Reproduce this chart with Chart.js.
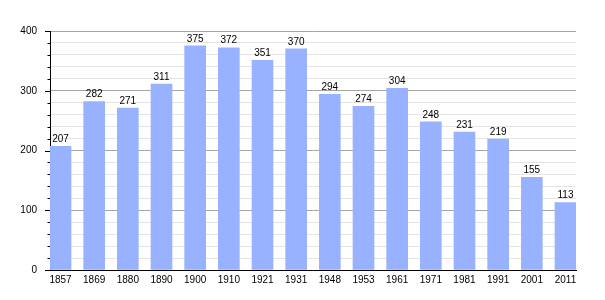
<!DOCTYPE html>
<html>
<head>
<meta charset="utf-8">
<script src="https://cdn.jsdelivr.net/npm/chart.js@4"></script>
<style>
  html, body { margin: 0; padding: 0; background: #fff; }
  #wrap { width: 605px; height: 300px; }
</style>
</head>
<body>
<div id="wrap"><canvas id="c" width="605" height="300"></canvas></div>
<script>
// Population by census year.
const years = ["1857", "1869", "1880", "1890", "1900", "1910", "1921", "1931",
               "1948", "1953", "1961", "1971", "1981", "1991", "2001", "2011"];
const population = [207, 282, 271, 311, 375, 372, 351, 370,
                    294, 274, 304, 248, 231, 219, 155, 113];
const yTicks = [0, 100, 200, 300, 400];

const FONT = "'Liberation Sans', Arial, sans-serif";

// value labels above bars + short tick marks on the left axis
const extras = {
  id: "extras",
  afterDatasetsDraw(chart) {
    const ctx = chart.ctx;
    const meta = chart.getDatasetMeta(0);
    ctx.save();
    ctx.font = "10px " + FONT;
    ctx.fillStyle = "#000";
    ctx.textAlign = "center";
    ctx.textBaseline = "bottom";
    meta.data.forEach((bar, i) => {
      ctx.fillText(String(population[i]), bar.x, bar.y - 2);
    });
    // y axis tick marks
    const y = chart.scales.y;
    ctx.strokeStyle = "#000";
    ctx.lineWidth = 1;
    for (let v = 0; v <= 400; v += 20) {
      const py = Math.round(y.getPixelForValue(v)) + 0.5;
      const len = yTicks.includes(v) ? 5 : 2.5;
      ctx.beginPath();
      ctx.moveTo(y.right - len, py);
      ctx.lineTo(y.right, py);
      ctx.stroke();
    }
    ctx.restore();
  }
};

new Chart(document.getElementById("c"), {
  type: "bar",
  data: {
    datasets: [{
      data: population.map((v, i) => ({ x: i, y: v })),
      backgroundColor: "#99b2ff",
      borderWidth: 0,
      barThickness: 21,
    }],
  },
  options: {
    responsive: false,
    animation: false,
    layout: { padding: { top: 31, right: 29, left: 0, bottom: 0 } },
    plugins: { legend: { display: false }, tooltip: { enabled: false } },
    scales: {
      x: {
        type: "linear",
        offset: false,
        min: -0.312, max: 15.312,
        afterBuildTicks: s => { s.ticks = years.map((_, i) => ({ value: i })); },
        afterFit: s => { s.height = 30; },
        ticks: {
          color: "#000", font: { family: FONT, size: 10 }, padding: 4,
          maxRotation: 0, autoSkip: false,
          callback: v => years[v],
        },
        grid: { display: false, drawTicks: false },
        border: { color: "#000", width: 1 },
      },
      y: {
        min: 0, max: 400,
        afterFit: s => { s.width = 50; },
        ticks: {
          stepSize: 20, autoSkip: false, color: "#000",
          font: { family: FONT, size: 10 }, padding: 13,
          callback: v => (yTicks.includes(v) ? String(v) : ""),
        },
        grid: {
          drawTicks: false,
          color: c => (yTicks.includes(c.tick.value) ? "#a6a6a6" : "#e4e4e4"),
        },
        border: { color: "#000", width: 1 },
      },
    },
  },
  plugins: [extras],
});
</script>
</body>
</html>
